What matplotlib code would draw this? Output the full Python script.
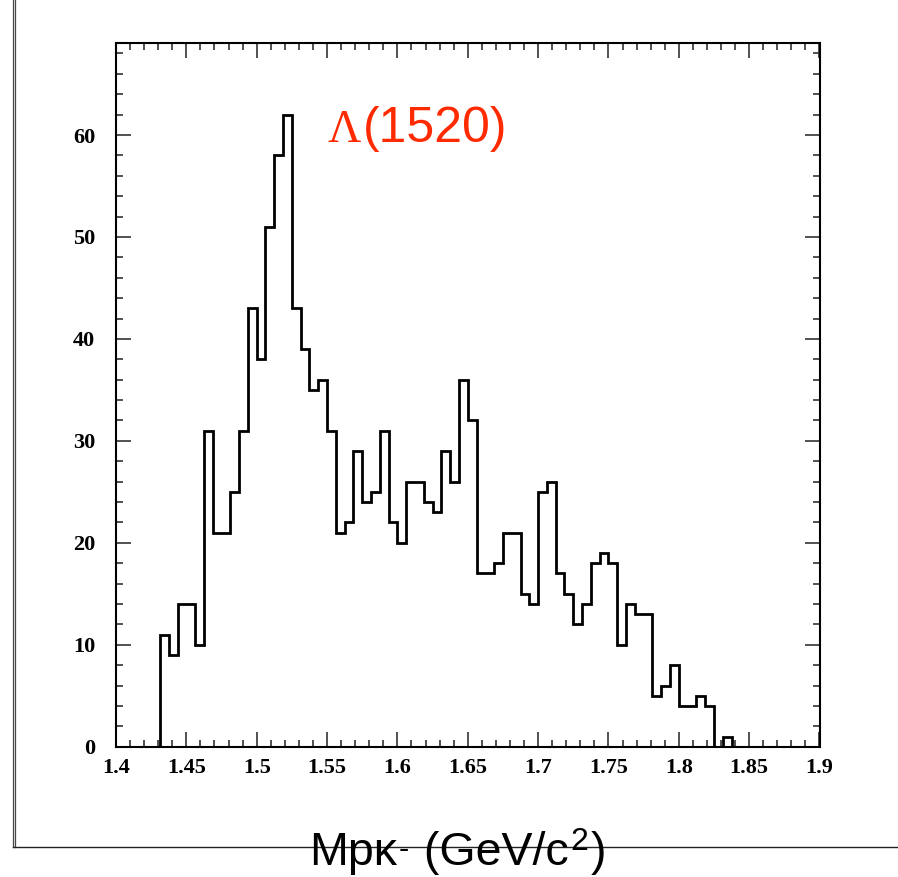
import numpy as np
import matplotlib
matplotlib.use('Agg')
import matplotlib.pyplot as plt
from matplotlib.lines import Line2D
from matplotlib.ticker import MultipleLocator

# histogram of M(pK-), 80 bins from 1.4 to 1.9 GeV/c^2
x_min = 1.4
x_max = 1.9
n_bins = 80
counts = [0, 0, 0, 0, 0, 11, 9, 14, 14, 10,
          31, 21, 21, 25, 31, 43, 38, 51, 58, 62,
          43, 39, 35, 36, 31, 21, 22, 29, 24, 25,
          31, 22, 20, 26, 26, 24, 23, 29, 26, 36,
          32, 17, 17, 18, 21, 21, 15, 14, 25, 26,
          17, 15, 12, 14, 18, 19, 18, 10, 14, 13,
          13, 5, 6, 8, 4, 4, 5, 4, 0, 1,
          0, 0, 0, 0, 0, 0, 0, 0, 0, 0]
x_ticks = [1.4, 1.45, 1.5, 1.55, 1.6, 1.65, 1.7, 1.75, 1.8, 1.85, 1.9]
x_tick_labels = ['1.4', '1.45', '1.5', '1.55', '1.6', '1.65', '1.7', '1.75', '1.8', '1.85', '1.9']
y_ticks = [0, 10, 20, 30, 40, 50, 60]

edges = np.linspace(x_min, x_max, n_bins + 1)

W, H = 898, 877
fig = plt.figure(figsize=(W / 100, H / 100), dpi=100)
ax = fig.add_axes([116 / W, 1 - 746.7 / H, (819.5 - 116) / W, (746.7 - 43.3) / H])

ax.stairs(counts, edges, color='black', linewidth=2.0, baseline=0)

ax.set_xlim(x_min, x_max)
ax.set_ylim(0, 69)
ax.set_xticks(x_ticks)
ax.set_xticklabels(x_tick_labels)
ax.set_yticks(y_ticks)
ax.xaxis.set_minor_locator(MultipleLocator(0.01))
ax.yaxis.set_minor_locator(MultipleLocator(2))

ax.tick_params(which='both', direction='in', top=True, right=True, color='#333333', width=1.2)
ax.tick_params(which='major', length=11)
ax.tick_params(which='minor', length=5)
ax.tick_params(axis='x', pad=8)
ax.tick_params(axis='y', pad=15)
for lab in ax.get_xticklabels() + ax.get_yticklabels():
    lab.set_fontfamily('Liberation Serif')
    lab.set_fontweight('bold')
    lab.set_fontsize(16)
for sp in ax.spines.values():
    sp.set_linewidth(1.5)

# peak label
red = '#ff2a00'
fig.text(328 / W, 1 - 142 / H, 'Λ', color=red, fontsize=33,
         family='Liberation Serif', ha='left', va='baseline')
fig.text(363 / W, 1 - 142 / H, '(1520)', color=red, fontsize=36,
         family='Liberation Sans', ha='left', va='baseline')

# outer frame lines of the original page
fig.add_artist(Line2D([13 / W, 13 / W], [1, 1 - 847 / H], color='#444444', lw=0.9))
fig.add_artist(Line2D([15.5 / W, 15.5 / W], [1, 1 - 847 / H], color='#444444', lw=0.9))
fig.add_artist(Line2D([13 / W, 1], [1 - 847 / H, 1 - 847 / H], color='#222222', lw=1.0))

# axis title, built piece by piece so the superscripts sit like the original
# (text, font size, raise above baseline in px)
title_parts = [('Mpκ', 33.5, 0), ('-', 22, 7), (' (GeV/c', 33.5, 0), ('2', 23, 15), (')', 33.5, 0)]
renderer = fig.canvas.get_renderer()
x_px = 309
for txt, size, lift in title_parts:
    t = fig.text(x_px / W, 1 - (865 - lift) / H, txt, fontsize=size,
                 family='Liberation Sans', ha='left', va='baseline')
    bb = t.get_window_extent(renderer)
    x_px += bb.width + 2

fig.savefig('out.png', dpi=100)
plt.close(fig)
